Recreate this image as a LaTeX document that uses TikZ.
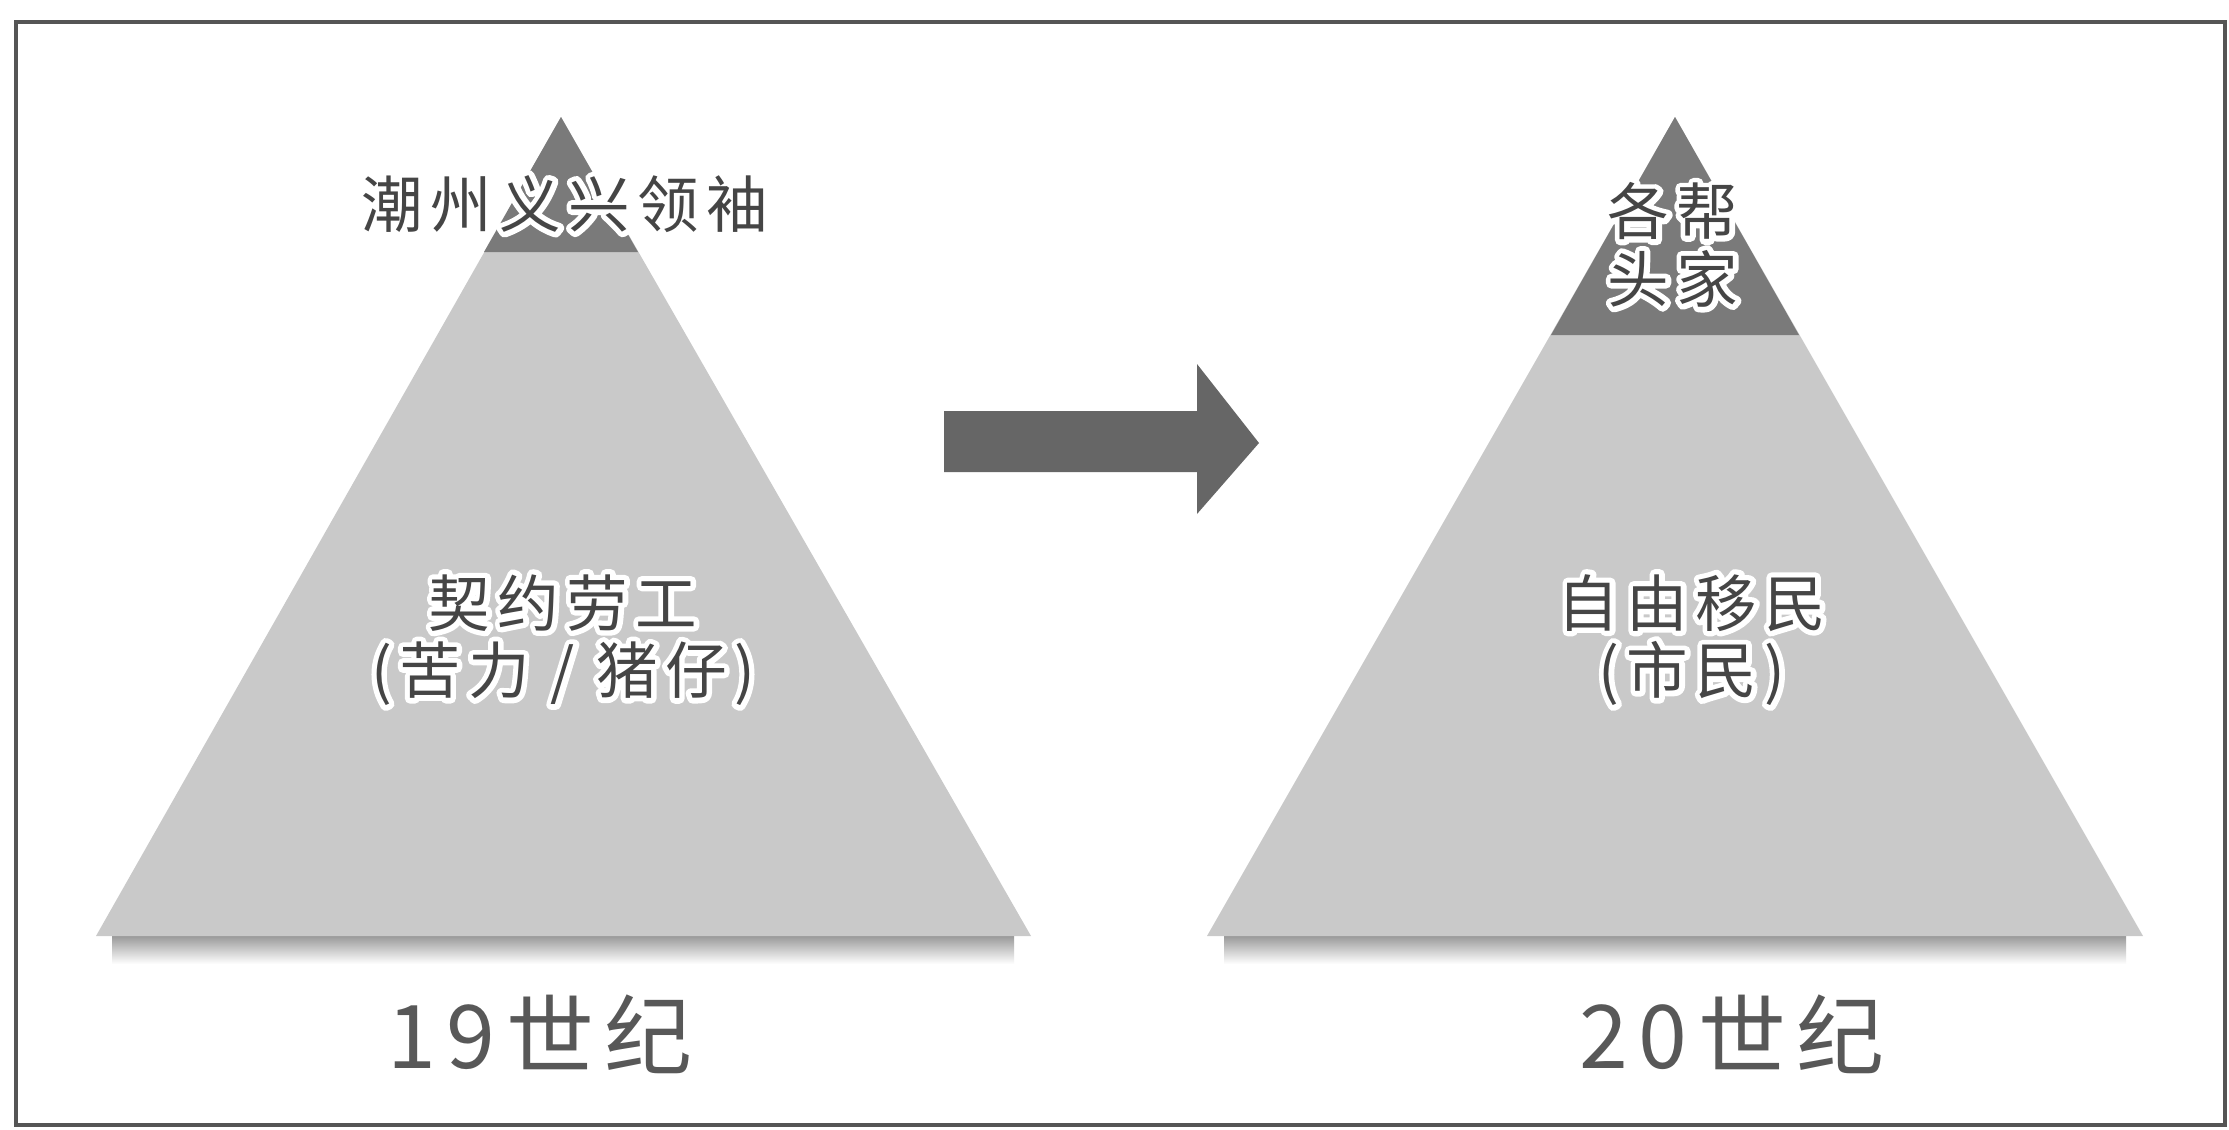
\documentclass[tikz,border=0pt]{standalone}
\usepackage{fontspec}
\newfontfamily\cjk[LetterSpace=12]{Noto Sans CJK SC}
\definecolor{topgray}{HTML}{7A7A7A}
\definecolor{basegray}{HTML}{C9C9C9}
\definecolor{inkgray}{HTML}{454545}
\definecolor{arrowgray}{HTML}{666666}
\definecolor{framegray}{HTML}{555555}
% white outline under a label
\newcommand{\halo}[1]{\makebox[0pt][l]{\color{white}%
  \special{pdf:literal direct 1 Tr 3 w 1 j}#1\special{pdf:literal direct 0 Tr 1 w}}#1}
\tikzset{
  layerlabel/.style={text=inkgray, align=center, inner sep=0pt,
    font=\cjk\fontsize{17.5}{19.2}\selectfont},
  erlabel/.style={text=inkgray!90, inner sep=0pt,
    font=\cjk\fontsize{25}{28}\selectfont},
}

\begin{document}
\begin{tikzpicture}[x=0.01cm, y=-0.01cm]
% Page and frame
\useasboundingbox (0,0) rectangle (2229,1130);
\fill[white] (0,0) rectangle (2229,1130);
\draw[framegray, line width=1.1pt] (16,22) rectangle (2225,1125);

% Shadows under the bases
\shade[top color=gray!85, bottom color=white] (112,934) rectangle (1014,964);
\shade[top color=gray!85, bottom color=white] (1224,934) rectangle (2126,964);

% Pyramid of the 19th century
\fill[basegray] (561,117) -- (96,936) -- (1031,936) -- cycle;
\fill[topgray] (561,117) -- (484,252) -- (638,252) -- cycle;

% Pyramid of the 20th century
\fill[basegray] (1675,117) -- (1207,936) -- (2143,936) -- cycle;
\fill[topgray] (1675,117) -- (1551,335) -- (1799,335) -- cycle;

% Arrow
\fill[arrowgray] (944,411) -- (1197,411) -- (1197,364) -- (1259,443)
  -- (1197,514) -- (1197,472) -- (944,472) -- cycle;

% Labels
\node[layerlabel] (lead19) at (565,204) {\halo{潮州义兴领袖}};
\node[layerlabel] (mass19) at (563,640)
  {\halo{契约劳工}\\\halo{(苦力 / 猪仔)}};
\node[layerlabel] (lead20) at (1673,245)
  {\halo{各帮}\\\halo{头家}};
\node[layerlabel] (mass20) at (1692,640)
  {\halo{自由移民}\\\halo{(市民)}};

\node[erlabel] (era19) at (540,1034) {19世纪};
\node[erlabel] (era20) at (1732,1034) {20世纪};

\end{tikzpicture}
\end{document}
